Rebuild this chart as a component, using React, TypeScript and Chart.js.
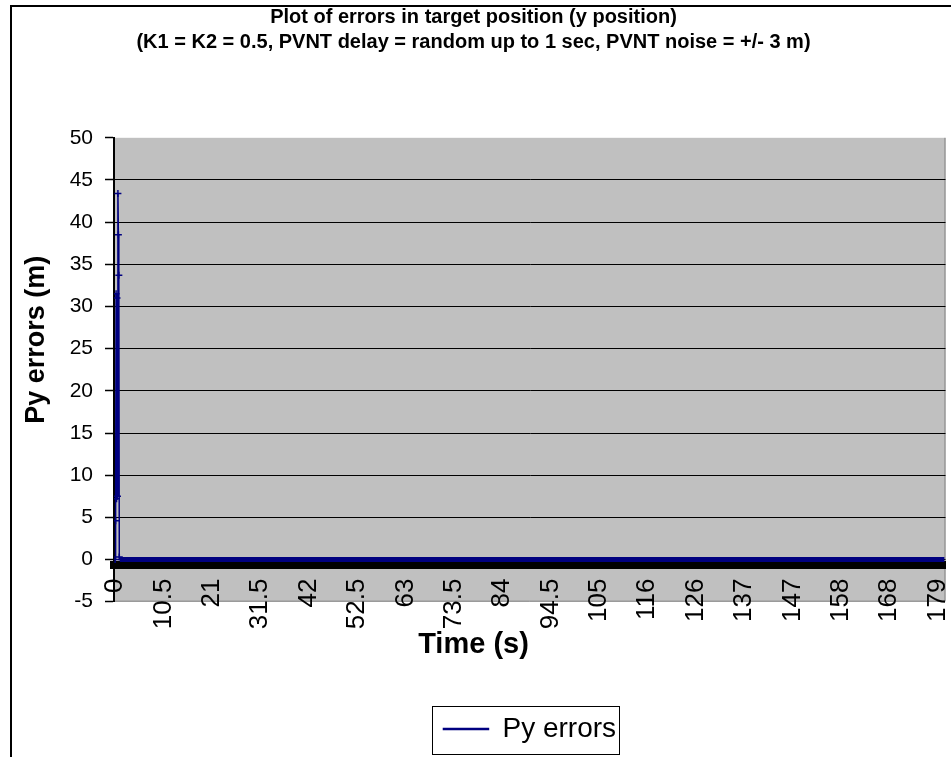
import React, { useEffect, useRef } from 'react';
import { Chart, registerables } from 'chart.js';

Chart.register(...registerables);

// ---------- data ----------
const chartTitleLines = [
  'Plot of errors in target position (y position)',
  '(K1 = K2 = 0.5, PVNT delay = random up to 1 sec, PVNT noise = +/- 3 m)',
];
const seriesName = 'Py errors';
const yAxisTitle = 'Py errors (m)';
const xAxisTitle = 'Time (s)';

// time (s) of the read points
const timeSeconds = [
  0, 0.1, 0.2, 0.3, 0.4, 0.5, 0.6, 0.7, 0.8, 0.9, 1,
  10.5, 21, 31.5, 42, 52.5, 63, 73.5, 84, 94.5, 105, 115.5, 126, 136.5, 147, 157.5, 168, 178.5, 180,
];
// Py errors (m) read at those times
const pyErrors = [
  0, 4.6, 31.5, 7.2, 31, 7.5, 43.4, 38.5, 33.7, 0.3, 0,
  0, 0, 0, 0, 0, 0, 0, 0, 0, 0, 0, 0, 0, 0, 0, 0, 0, 0,
];

const timeTickValues = [0, 10.5, 21, 31.5, 42, 52.5, 63, 73.5, 84, 94.5, 105, 115.5, 126, 136.5, 147, 157.5, 168, 178.5];
const timeTickLabels = ['0', '10.5', '21', '31.5', '42', '52.5', '63', '73.5', '84', '94.5', '105', '116', '126', '137', '147', '158', '168', '179'];

const yMin = -5;
const yMax = 50;
const yStep = 5;
const xMin = -0.25;
const xMax = 180.25;

// ---------- styles ----------
const FONT = "'Liberation Sans', Arial, Helvetica, sans-serif";
const SERIES_COLOR = '#000080';
const PLOT_BG = '#C0C0C0';
// leading blank space only moves the rotated axis title up along the axis
const Y_TITLE_SHIFT = '        ';

const plotAreaPlugin = {
  id: 'plotAreaDecor',
  beforeDraw(chart: any) {
    const { ctx, chartArea: a } = chart;
    ctx.save();
    ctx.fillStyle = PLOT_BG;
    ctx.fillRect(a.left, a.top, a.right - a.left, a.bottom - a.top);
    ctx.strokeStyle = '#808080';
    ctx.lineWidth = 1;
    ctx.beginPath();
    ctx.moveTo(a.right - 0.5, a.top);
    ctx.lineTo(a.right - 0.5, a.bottom - 0.5);
    ctx.lineTo(a.left, a.bottom - 0.5);
    ctx.stroke();
    ctx.restore();
  },
  afterDraw(chart: any) {
    const lg = chart.legend;
    if (!lg || !lg.legendHitBoxes || !lg.legendHitBoxes.length) return;
    const hb = lg.legendHitBoxes[0];
    const { ctx } = chart;
    ctx.save();
    ctx.strokeStyle = '#000';
    ctx.lineWidth = 1;
    const l = Math.round(hb.left - 11) + 0.5;
    const t = Math.round(hb.top - 9) + 0.5;
    const r = Math.round(hb.left + hb.width + 3) + 0.5;
    const b = Math.round(hb.top + hb.height + 11) + 0.5;
    ctx.strokeRect(l, t, r - l, b - t);
    ctx.restore();
  },
};

export default function App() {
  const ref = useRef<HTMLCanvasElement>(null);

  useEffect(() => {
    const canvas = ref.current;
    if (!canvas) return;
    const points = timeSeconds.map((t, i) => ({ x: t, y: pyErrors[i] }));
    const chart = new Chart(canvas, {
      type: 'line',
      data: {
        datasets: [
          {
            label: seriesName,
            data: points,
            borderColor: SERIES_COLOR,
            backgroundColor: SERIES_COLOR,
            borderWidth: 1.5,
            tension: 0,
            pointStyle: 'cross',
            pointRadius: (c: any) => (c.raw && c.raw.x < 0.95 ? 3.5 : 0),
            pointBorderWidth: 1.5,
            pointBorderColor: SERIES_COLOR,
            segment: {
              borderWidth: (c: any) => (c.p0.parsed.x >= 0.95 ? 5 : 1.5),
            },
          } as any,
        ],
      },
      options: {
        responsive: false,
        devicePixelRatio: 1,
        animation: false,
        events: [],
        layout: { padding: { left: 0, right: 4, top: 0, bottom: 4 } },
        plugins: {
          title: {
            display: true,
            text: chartTitleLines,
            color: '#000',
            font: { family: FONT, size: 20, weight: 'bold', lineHeight: 1.25 },
            padding: { top: 4.5, bottom: 83.3 },
          },
          subtitle: {
            display: true,
            text: xAxisTitle,
            position: 'bottom',
            weight: 500,
            fullSize: true,
            color: '#000',
            font: { family: FONT, size: 29, weight: 'bold', lineHeight: 1 },
            padding: { top: 29, bottom: 0 },
          },
          legend: {
            display: true,
            position: 'bottom',
            fullSize: false,
            labels: {
              color: '#000',
              font: { family: FONT, size: 28 },
              boxWidth: 45,
              boxHeight: 1,
              padding: 55.3,
            },
          },
          tooltip: { enabled: false },
        },
        scales: {
          x: {
            type: 'linear',
            min: xMin,
            max: xMax,
            position: { y: -0.6 } as any,
            afterBuildTicks: (s: any) => {
              s.ticks = timeTickValues.map((v) => ({ value: v }));
            },
            afterFit: (s: any) => {
              s.paddingLeft = 0;
              s.paddingRight = 0;
            },
            ticks: {
              autoSkip: false,
              minRotation: 90,
              maxRotation: 90,
              padding: 14,
              color: '#000',
              font: { family: FONT, size: 26 },
              callback: (_v: any, i: number) => timeTickLabels[i],
            },
            grid: { display: false, drawTicks: false },
            border: { display: true, color: '#000', width: 8 },
          },
          y: {
            type: 'linear',
            min: yMin,
            max: yMax,
            afterFit: (s: any) => {
              s.width = 114;
            },
            ticks: {
              stepSize: yStep,
              padding: 12,
              color: '#000',
              font: { family: FONT, size: 21 },
            },
            grid: {
              color: (c: any) =>
                c.tick && (c.tick.value === yMax || c.tick.value === yMin) ? 'rgba(0,0,0,0)' : '#000',
              lineWidth: 1,
              tickLength: 9,
              tickColor: '#000',
              tickWidth: 1.5,
              drawTicks: true,
            },
            border: { display: true, color: '#000', width: 2 },
            title: {
              display: true,
              text: Y_TITLE_SHIFT + yAxisTitle,
              color: '#000',
              font: { family: FONT, size: 27, weight: 'bold', lineHeight: 1.2 },
              padding: { top: 20.8, bottom: 0 },
            },
          },
        },
      },
      plugins: [plotAreaPlugin],
    } as any);
    return () => chart.destroy();
  }, []);

  return (
    <div
      style={{
        position: 'fixed',
        left: 0,
        top: 0,
        width: 951,
        height: 757,
        overflow: 'hidden',
        background: '#fff',
      }}
    >
      <div
        style={{
          position: 'absolute',
          left: 10,
          top: 5,
          width: 1200,
          height: 1200,
          borderLeft: '2px solid #000',
          borderTop: '2px solid #000',
        }}
      />
      <canvas
        ref={ref}
        width={951}
        height={757}
        style={{ position: 'absolute', left: 0, top: 0, width: 951, height: 757 }}
      />
    </div>
  );
}
